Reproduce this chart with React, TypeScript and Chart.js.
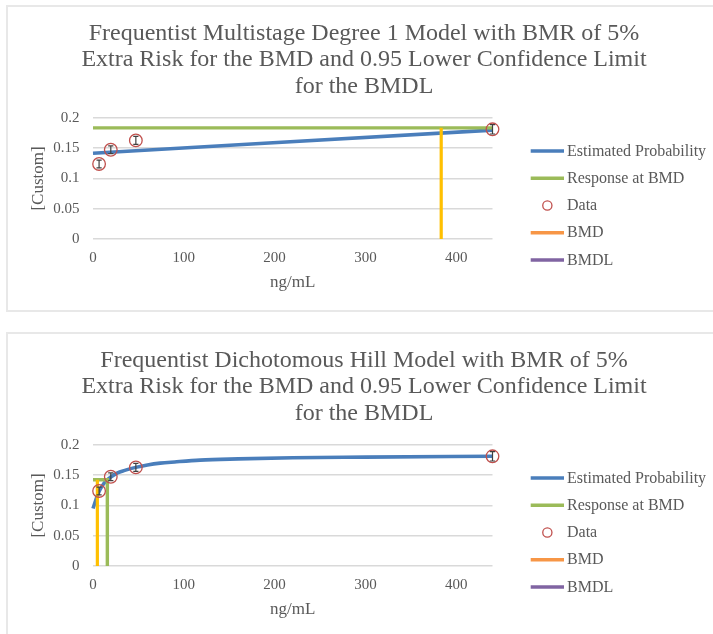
import React, { useEffect, useRef } from 'react';
import { Chart, registerables } from 'chart.js';

Chart.register(...registerables);

// ---- axes ----
const X_MIN = 0;
const X_MAX = 440;
const X_STEP = 100;
const Y_MIN = 0;
const Y_MAX = 0.2;
const Y_STEP = 0.05;

// ---- observed data (dose, response, error bar limits) ----
const DATA_DOSE = [6.7, 19.6, 47.2, 440];
const DATA_RESP = [0.124, 0.1475, 0.163, 0.1813];
const DATA_LOW = [0.1175, 0.141, 0.1565, 0.1735];
const DATA_HIGH = [0.1305, 0.154, 0.1695, 0.189];

// ---- multistage degree 1 model ----
const MS_TITLE = [
  'Frequentist Multistage Degree 1 Model with BMR of 5%',
  'Extra Risk for the BMD and 0.95 Lower Confidence Limit',
  'for the BMDL',
];
const MS_CURVE_DOSE = [0, 184, 440];
const MS_CURVE_PROB = [0.1417, 0.1578, 0.18];
const MS_BMR_DOSE = [0, 440];
const MS_BMR_RESP = [0.1837, 0.1837];
const MS_BMD_DOSE = [383.5, 383.5];
const MS_BMD_RESP = [0, 0.1837];

// ---- dichotomous Hill model ----
const HILL_TITLE = [
  'Frequentist Dichotomous Hill Model with BMR of 5%',
  'Extra Risk for the BMD and 0.95 Lower Confidence Limit',
  'for the BMDL',
];
const HILL_CURVE_DOSE = [0, 2, 4, 6.7, 10, 14, 19.6, 27, 35, 47, 60, 74, 90, 118, 160, 220, 300, 440];
const HILL_CURVE_PROB = [0.095, 0.104, 0.113, 0.123, 0.132, 0.14, 0.147, 0.154, 0.158, 0.163, 0.167, 0.17, 0.172, 0.175, 0.177, 0.179, 0.18, 0.1815];
const HILL_BMR_DOSE = [0, 15.8, 15.8];
const HILL_BMR_RESP = [0.1425, 0.1425, 0];
const HILL_BMD_DOSE = [4.8, 4.8];
const HILL_BMD_RESP = [0, 0.1425];

// ---- style ----
const FONT = "'Liberation Serif', 'Times New Roman', serif";
const TEXT = '#595959';
const GRID = '#D9D9D9';
const BLUE = '#4A7EBB';
const GREEN = '#9BBB59';
const GOLD = '#FFC000';
const ORANGE = '#F79646';
const PURPLE = '#8064A2';
const RED = '#C0504D';

const pts = (xs: number[], ys: number[]) => xs.map((x, i) => ({ x, y: ys[i] }));

// Legend drawn in the reserved space right of the plot
const sideLegend = {
  id: 'sideLegend',
  afterDraw(chart: any, _args: any, opts: any) {
    const { ctx } = chart;
    ctx.save();
    ctx.font = `${opts.size}px ${FONT}`;
    ctx.textBaseline = 'middle';
    ctx.textAlign = 'left';
    chart.data.datasets.forEach((ds: any, i: number) => {
      const y = opts.top + i * opts.step;
      const color = ds.legendColor || ds.borderColor;
      if (ds.showLine === false) {
        ctx.beginPath();
        ctx.arc((opts.x0 + opts.x1) / 2, y, 4.6, 0, Math.PI * 2);
        ctx.lineWidth = 1.3;
        ctx.strokeStyle = ds.pointBorderColor;
        ctx.stroke();
      } else {
        ctx.beginPath();
        ctx.moveTo(opts.x0, y);
        ctx.lineTo(opts.x1, y);
        ctx.lineWidth = 3.3;
        ctx.strokeStyle = color;
        ctx.stroke();
      }
      ctx.fillStyle = TEXT;
      ctx.fillText(ds.label, opts.textX, y + 0.5);
    });
    ctx.restore();
  },
};

// Error bars for datasets carrying errorLow / errorHigh
const errorBars = {
  id: 'errorBars',
  afterDatasetsDraw(chart: any) {
    const { ctx, scales } = chart;
    chart.data.datasets.forEach((ds: any) => {
      if (!ds.errorLow) return;
      ctx.save();
      ctx.strokeStyle = '#404040';
      ctx.lineWidth = 1.2;
      ds.data.forEach((p: any, i: number) => {
        const px = scales.x.getPixelForValue(p.x);
        const lo = scales.y.getPixelForValue(ds.errorLow[i]);
        const hi = scales.y.getPixelForValue(ds.errorHigh[i]);
        ctx.beginPath();
        ctx.moveTo(px, lo);
        ctx.lineTo(px, hi);
        ctx.moveTo(px - 2.6, lo);
        ctx.lineTo(px + 2.6, lo);
        ctx.moveTo(px - 2.6, hi);
        ctx.lineTo(px + 2.6, hi);
        ctx.stroke();
      });
      ctx.restore();
    });
  },
};

function buildConfig(title: string[], curve: any[], bmr: any[], bmd: any[], smooth: boolean): any {
  const lineBase = { showLine: true, pointRadius: 0, pointHoverRadius: 0, clip: false, fill: false };
  return {
    type: 'scatter',
    data: {
      datasets: [
        { ...lineBase, label: 'Estimated Probability', data: curve, borderColor: BLUE, borderWidth: 3.6, tension: smooth ? 0.4 : 0, cubicInterpolationMode: smooth ? 'monotone' : 'default', order: 4 },
        { ...lineBase, label: 'Response at BMD', data: bmr, borderColor: GREEN, borderWidth: 3.4, order: 3 },
        {
          label: 'Data',
          data: pts(DATA_DOSE, DATA_RESP),
          showLine: false,
          pointRadius: 6.3,
          pointHoverRadius: 6.3,
          pointBorderWidth: 1.3,
          pointBorderColor: RED,
          pointBackgroundColor: 'rgba(0,0,0,0)',
          borderColor: RED,
          clip: false,
          errorLow: DATA_LOW,
          errorHigh: DATA_HIGH,
          order: 0,
        },
        { ...lineBase, label: 'BMD', data: bmd, borderColor: GOLD, legendColor: ORANGE, borderWidth: 3.2, order: 2 },
        { ...lineBase, label: 'BMDL', data: [], borderColor: PURPLE, borderWidth: 3.2, order: 1 },
      ],
    },
    options: {
      responsive: false,
      animation: false,
      devicePixelRatio: 1,
      layout: { padding: { left: 7, right: 0, top: 0, bottom: 0 } },
      plugins: {
        legend: { display: false },
        tooltip: { enabled: false },
        title: {
          display: true,
          text: title,
          color: TEXT,
          font: { family: FONT, size: 24, weight: 'normal', lineHeight: 1.104 },
          padding: { top: 13.25, bottom: 18.25 },
        },
        sideLegend: { x0: 522.7, x1: 556, textX: 559, top: 144, step: 27.25, size: 16 },
      },
      scales: {
        x: {
          type: 'linear',
          position: 'bottom',
          min: X_MIN,
          max: X_MAX,
          afterFit: (s: any) => { s.height = 71; },
          grid: { display: false, drawTicks: false },
          border: { display: false },
          ticks: { stepSize: X_STEP, includeBounds: false, padding: 10, color: TEXT, font: { family: FONT, size: 15 } },
          title: { display: true, text: 'ng/mL', color: TEXT, font: { family: FONT, size: 17 }, padding: { top: 0, bottom: 16.8 } },
        },
        y: {
          type: 'linear',
          position: 'left',
          min: Y_MIN,
          max: Y_MAX,
          afterFit: (s: any) => { s.width = 78; },
          grid: { color: GRID, lineWidth: 1.5, drawTicks: false },
          border: { display: false },
          ticks: {
            stepSize: Y_STEP,
            padding: 13.5,
            color: TEXT,
            font: { family: FONT, size: 15 },
            callback: (v: number) => String(Number(v.toFixed(2))),
          },
          title: { display: true, text: '[Custom]', color: TEXT, font: { family: FONT, size: 17 }, padding: { top: 13.4, bottom: 0 } },
        },
        legendSpace: {
          type: 'linear',
          position: 'right',
          display: true,
          afterFit: (s: any) => { s.width = 220.5; },
          grid: { display: false, drawTicks: false },
          border: { display: false },
          ticks: { display: false },
        },
      },
    },
    plugins: [sideLegend, errorBars],
  };
}

function ModelChart({ config, top }: { config: any; top: number }) {
  const ref = useRef<HTMLCanvasElement | null>(null);
  useEffect(() => {
    if (!ref.current) return;
    const chart = new Chart(ref.current, config);
    return () => chart.destroy();
  }, [config]);
  return (
    <>
      <div
        style={{
          position: 'absolute',
          left: 6,
          top: top - 2,
          width: 740,
          height: 303,
          border: '2px solid #E8E8E8',
          background: '#fff',
        }}
      />
      <canvas
        ref={ref}
        width={705}
        height={303}
        style={{ position: 'absolute', left: 8, top, width: 705, height: 303 }}
      />
    </>
  );
}

const MS_CONFIG = buildConfig(
  MS_TITLE,
  pts(MS_CURVE_DOSE, MS_CURVE_PROB),
  pts(MS_BMR_DOSE, MS_BMR_RESP),
  pts(MS_BMD_DOSE, MS_BMD_RESP),
  false,
);
const HILL_CONFIG = buildConfig(
  HILL_TITLE,
  pts(HILL_CURVE_DOSE, HILL_CURVE_PROB),
  pts(HILL_BMR_DOSE, HILL_BMR_RESP),
  pts(HILL_BMD_DOSE, HILL_BMD_RESP),
  true,
);

export default function App() {
  return (
    <div
      style={{
        position: 'absolute',
        left: 0,
        top: 0,
        width: 713,
        height: 634,
        overflow: 'hidden',
        background: '#fff',
      }}
    >
      <ModelChart config={MS_CONFIG} top={7} />
      <ModelChart config={HILL_CONFIG} top={334} />
    </div>
  );
}
